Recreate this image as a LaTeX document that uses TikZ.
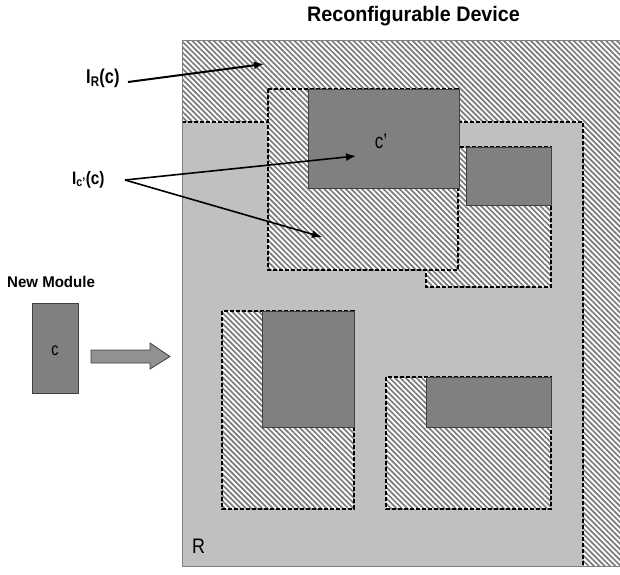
\documentclass[tikz,border=0pt]{standalone}
\usepackage{fontspec}
\setmainfont{Liberation Sans}
\usetikzlibrary{patterns.meta,arrows.meta}
\definecolor{areagray}{HTML}{C0C0C0}
\definecolor{modgray}{HTML}{808080}
\definecolor{hatchgray}{HTML}{7A7A7A}
\definecolor{edgegray}{HTML}{404040}
\definecolor{framegray}{HTML}{808080}
\definecolor{shiftgray}{HTML}{919191}
\newcommand{\narrow}[2][0.88]{\scalebox{#1}[1]{#2}}
\tikzset{
  hatch/.style={fill=white, postaction={pattern={Lines[angle=-45,distance=3.8pt,line width=1.7pt]}, pattern color=hatchgray}},
  zoneline/.style={draw=black, line width=1.5pt, dash pattern=on 4pt off 2pt},
  modbox/.style={fill=modgray, draw=edgegray, line width=0.8pt},
  pointer/.style={draw=black, line width=2pt, -{Latex[length=10pt,width=8pt]}},
  lbl/.style={inner sep=0pt, anchor=base west}
}
\begin{document}
\begin{tikzpicture}[x=1pt,y=-1pt]
\useasboundingbox (0,0) rectangle (620,574);

% title
\node[inner sep=0pt, anchor=base] (title) at (413.5,21) {\fontsize{21}{24}\selectfont\bfseries\narrow[0.94]{Reconfigurable Device}};

% whole device area (hatched) and free region R
\path[hatch] (182,40) rectangle (622,566);
\fill[areagray] (182,122) rectangle (583,566);
\draw[zoneline] (182,122) -- (583,122) -- (583,566);

% placed module on the right, with its hatched zone
\path[hatch] (426,147) rectangle (551,287);
\draw[zoneline] (426,147) rectangle (551,287);
\node[modbox, minimum width=85pt, minimum height=58pt, inner sep=0pt, anchor=north west] (m2) at (466,147) {};

% module c' with its hatched zone
\path[hatch] (268,89) rectangle (458,270);
\draw[zoneline] (268,89) rectangle (458,270);
\node[modbox, minimum width=151pt, minimum height=99pt, inner sep=0pt, anchor=north west] (cp) at (307.5,89) {};
\node[inner sep=0pt, anchor=base] (cplabel) at (381,148) {\fontsize{21}{24}\selectfont\narrow[0.8]{c'}};

% lower left module
\path[hatch] (222,311) rectangle (354,509);
\draw[zoneline] (222,311) rectangle (354,509);
\node[modbox, minimum width=92pt, minimum height=116pt, inner sep=0pt, anchor=north west] (m3) at (262,311) {};

% lower right module
\path[hatch] (386,377) rectangle (551,509);
\draw[zoneline] (386,377) rectangle (551,509);
\node[modbox, minimum width=125pt, minimum height=50pt, inner sep=0pt, anchor=north west] (m4) at (426,377) {};

% device frame
\draw[framegray, line width=1pt] (622,40) -- (182,40) -- (182,566) -- (622,566);

\node[lbl] (rlabel) at (192,553) {\fontsize{21}{24}\selectfont\narrow[0.85]{R}};

% interference labels and pointers
\node[lbl] (irlabel) at (86,83) {\fontsize{20}{24}\selectfont\bfseries\narrow[0.82]{I\textsubscript{R}(c)}};
\coordinate (irstart) at (128,82);
\coordinate (irtip) at (264,64);
\draw[pointer] (irstart) -- (irtip);

\node[lbl] (iclabel) at (72,184) {\fontsize{18}{22}\selectfont\bfseries\narrow[0.85]{I\textsubscript{c'}(c)}};
\coordinate (icstart) at (125,180);
\coordinate (ictipa) at (356,156);
\coordinate (ictipb) at (322,237);
\draw[pointer, line width=1.6pt] (icstart) -- (ictipa);
\draw[pointer, line width=1.6pt] (icstart) -- (ictipb);

% new module c
\node[lbl] (newlabel) at (7,287) {\fontsize{15.5}{18}\selectfont\bfseries\narrow[0.97]{New Module}};
\node[modbox, minimum width=46pt, minimum height=90pt, inner sep=0pt] (c) at (55,348) {};
\node[inner sep=0pt] (clabel) at (55,351) {\fontsize{18}{20}\selectfont\narrow[0.8]{c}};

% placement arrow
\draw[fill=shiftgray, draw=edgegray, line width=0.8pt]
  (91,350) -- (150,350) -- (150,343) -- (170,356.5) -- (150,369) -- (150,363) -- (91,363) -- cycle;
\end{tikzpicture}
\end{document}
